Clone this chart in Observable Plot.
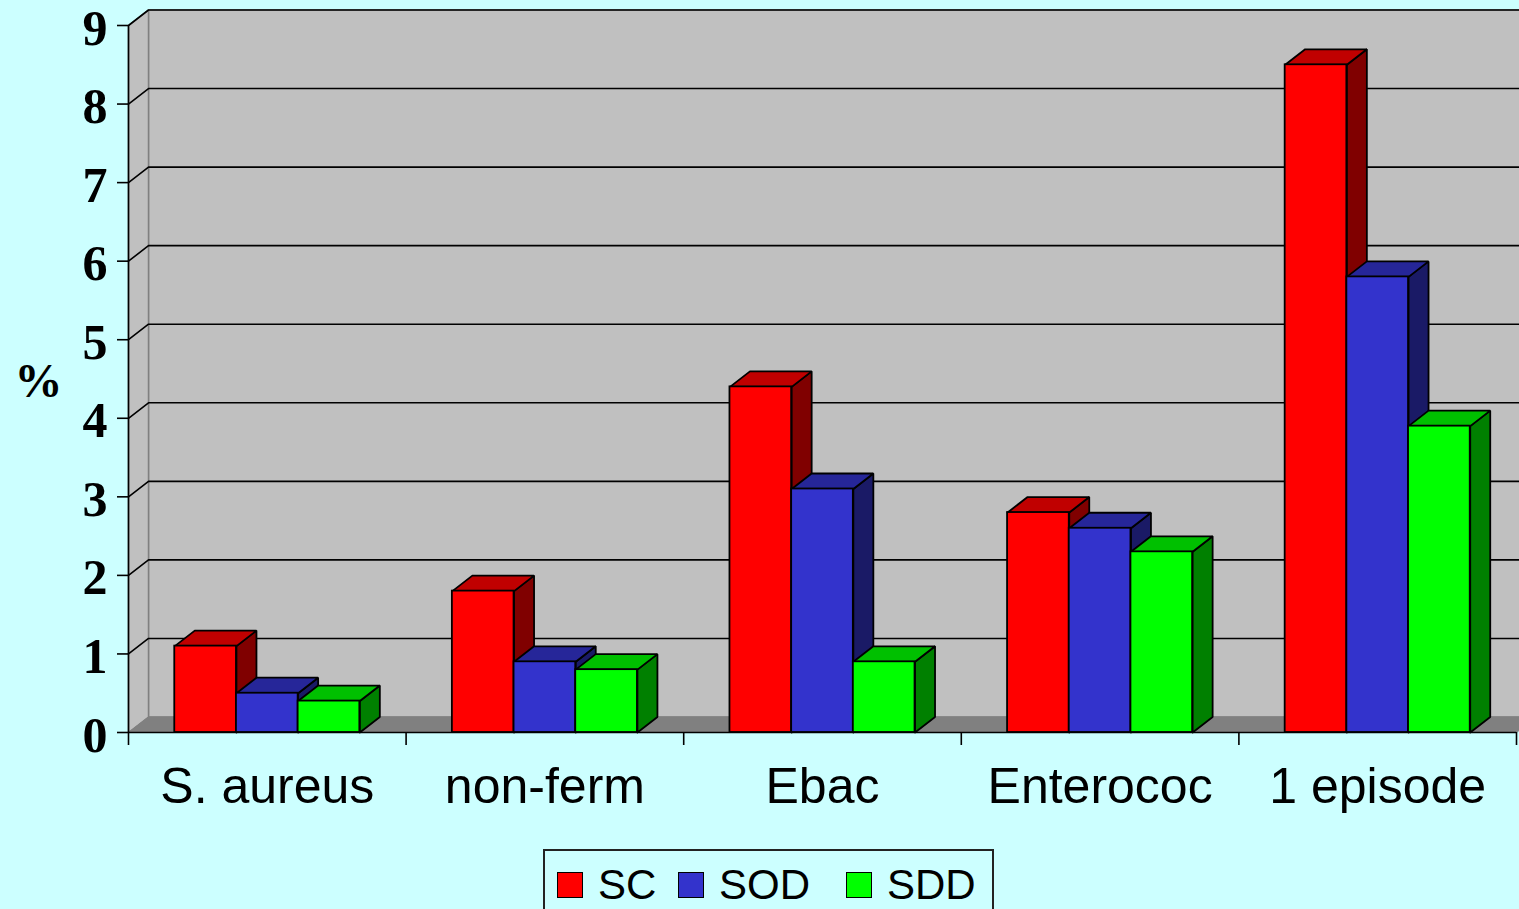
<!DOCTYPE html>
<html>
<head>
<meta charset="utf-8">
<script src="https://cdn.jsdelivr.net/npm/d3@7"></script>
<script src="https://cdn.jsdelivr.net/npm/@observablehq/plot@0.6"></script>
<style>
  html, body { margin: 0; padding: 0; background: #CCFFFF; overflow: hidden; }
  #wrap { position: relative; width: 1519px; height: 909px; }
  #legend {
    position: absolute; left: 543px; top: 849px; width: 451px; height: 70px;
    border: 2px solid #222; box-sizing: border-box; background: #CCFFFF;
    font-family: "Liberation Sans", Arial, sans-serif; font-size: 42px; color: #000;
  }
  #legend .item { position: absolute; top: 16px; display: flex; align-items: center; }
  #legend .sw { width: 26px; height: 26px; border: 1.5px solid #000; box-sizing: border-box; margin-right: 15px; }
  #legend span.t { line-height: 36px; }
</style>
</head>
<body>
<div id="wrap">
  <div id="chart"></div>
  <div id="legend"></div>
</div>
<script>
// Categories and series values (percent)
const categories = ["S. aureus", "non-ferm", "Ebac", "Enterococ", "1 episode"];
const seriesNames = ["SC", "SOD", "SDD"];
const scValues  = [1.1, 1.8, 4.4, 2.8, 8.5];
const sodValues = [0.5, 0.9, 3.1, 2.6, 5.8];
const sddValues = [0.4, 0.8, 0.9, 2.3, 3.9];
const yTicks = [0, 1, 2, 3, 4, 5, 6, 7, 8, 9];

// Face colours for each series: front, top, side
const frontColors = ["#FF0000", "#3333CC", "#00FF00"];
const topColors   = ["#C00000", "#262699", "#00C000"];
const sideColors  = ["#800000", "#1A1A66", "#008000"];

// Frame geometry
const W = 1519, H = 845;
const mL = 128, mR = 3, mT = 25, mB = 113;
const yMax = 9;
const pxPerX = (W - mL - mR) / categories.length;
const pxPerY = (H - mT - mB) / yMax;
// 3D depth offset, expressed in data units
const DX = 20 / pxPerX;
const DY = 15.5 / pxPerY;

// Column layout inside each category (gap width 150%)
const barW = 1 / 4.5;
const barOff = 0.75 * barW;

const seriesValues = [scValues, sodValues, sddValues];
const bars = [];
categories.forEach((c, i) => {
  seriesValues.forEach((vals, j) => {
    const x1 = i + barOff + j * barW;
    bars.push({category: c, series: seriesNames[j], j, x1, x2: x1 + barW, value: vals[i]});
  });
});

// Polygon helpers (closed rings of vertices)
function ring(id, fill, pts) {
  const r = pts.map(([x, y]) => ({id, fill, x, y}));
  r.push({...r[0]});
  return r;
}

const sides = bars.flatMap((b, k) => ring("s" + k, sideColors[b.j], [
  [b.x2, 0], [b.x2 + DX, DY], [b.x2 + DX, b.value + DY], [b.x2, b.value]
]));
const tops = bars.flatMap((b, k) => ring("t" + k, topColors[b.j], [
  [b.x1, b.value], [b.x2, b.value], [b.x2 + DX, b.value + DY], [b.x1 + DX, b.value + DY]
]));

const n = categories.length;
const backWall = ring("back", "#C0C0C0", [[DX, DY], [n + DX, DY], [n + DX, yMax + DY], [DX, yMax + DY]]);
const sideWall = ring("left", "#C0C0C0", [[0, 0], [DX, DY], [DX, yMax + DY], [0, yMax]]);
const floor = ring("floor", "#808080", [[0, 0], [n, 0], [n + DX, DY], [DX, DY]]);

// Gridlines: diagonal on the side wall, horizontal across the back wall
const grid = yTicks.filter(v => v > 0).flatMap(v => [
  {id: v, x: 0, y: v}, {id: v, x: DX, y: v + DY}, {id: v, x: n + DX, y: v + DY}
]);

const poly = (data, opts = {}) => Plot.line(data, {
  x: "x", y: "y", z: "id", fill: "fill", curve: "linear",
  strokeLinejoin: "miter", ...opts
});

const serif = "'Liberation Serif', 'Times New Roman', serif";
const sans = "'Liberation Sans', Arial, sans-serif";

const chart = Plot.plot({
  width: W, height: H,
  marginLeft: mL, marginRight: mR, marginTop: mT, marginBottom: mB,
  x: {type: "linear", domain: [0, n], axis: null},
  y: {type: "linear", domain: [0, yMax], axis: null},
  color: {type: "identity"},
  style: {background: "transparent", overflow: "visible"},
  marks: [
    poly(backWall, {stroke: "#808080", strokeWidth: 1.5}),
    poly(sideWall, {stroke: "#808080", strokeWidth: 1.5}),
    poly(floor, {stroke: "#808080", strokeWidth: 1}),
    Plot.line(grid, {x: "x", y: "y", z: "id", stroke: "#000", strokeWidth: 1.6}),
    // y axis: line, ticks and bold serif labels
    Plot.ruleX([0], {y1: 0, y2: yMax, stroke: "#000", strokeWidth: 1.6}),
    Plot.axisY({ticks: yTicks, tickSize: 11, strokeWidth: 1.6, tickFormat: () => "", label: null}),
    Plot.text(yTicks, {
      x: 0, y: d => d, text: d => String(d), dx: -21, dy: 19,
      textAnchor: "end", lineAnchor: "bottom",
      fontSize: 50, fontWeight: "bold", fontFamily: serif, fill: "#000"
    }),
    // x axis: line, category boundary ticks and labels
    Plot.ruleY([0], {x1: 0, x2: n, stroke: "#000", strokeWidth: 1.6}),
    Plot.axisX({ticks: d3.range(n + 1), tickSize: 13, strokeWidth: 1.6, tickFormat: () => "", label: null}),
    Plot.axisX({
      ticks: d3.range(n).map(i => i + 0.5), tickSize: 0, tickPadding: 35,
      tickFormat: d => categories[Math.floor(d)], label: null,
      fontSize: 50, fontFamily: sans, fill: "#000"
    }),
    // bars: side faces, top faces, then front faces
    poly(sides, {stroke: "#000", strokeWidth: 1.8}),
    poly(tops, {stroke: "#000", strokeWidth: 1.8}),
    Plot.rect(bars, {
      x1: "x1", x2: "x2", y1: 0, y2: "value",
      fill: d => frontColors[d.j], stroke: "#000", strokeWidth: 1.8
    }),
    // axis title
    Plot.text(["%"], {
      frameAnchor: "left", dx: -114, dy: 18, textAnchor: "start", lineAnchor: "bottom",
      fontSize: 48, fontWeight: "bold", fontFamily: serif, fill: "#000"
    })
  ]
});
document.getElementById("chart").appendChild(chart);

// Legend below the plot
const legendLeft = [12, 133, 301];
const legend = document.getElementById("legend");
seriesNames.forEach((name, j) => {
  const item = document.createElement("div");
  item.className = "item";
  item.style.left = legendLeft[j] + "px";
  item.innerHTML = `<div class="sw" style="background:${frontColors[j]}"></div><span class="t">${name}</span>`;
  legend.appendChild(item);
});
</script>
</body>
</html>
